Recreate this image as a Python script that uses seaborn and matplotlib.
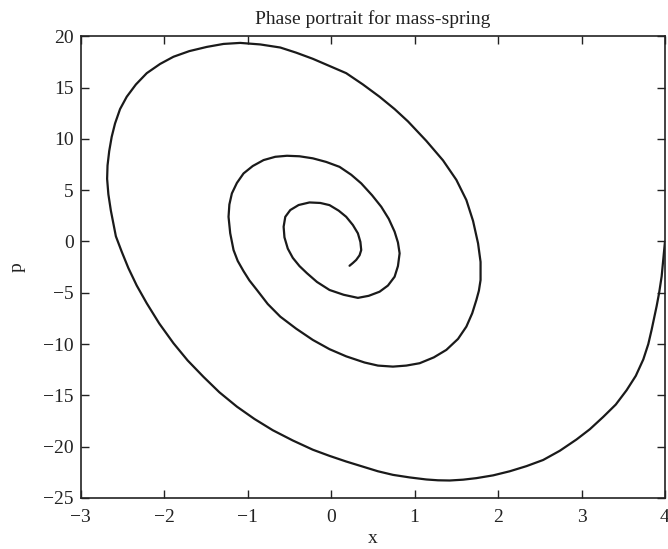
import numpy as np
import pandas as pd
import matplotlib
matplotlib.use('Agg')
import matplotlib.pyplot as plt
import seaborn as sns

# 轨迹数据（从图上读取，按时间顺序）
x_vals = [4.00, 3.98, 3.96, 3.93, 3.90, 3.84, 3.80, 3.74, 3.65, 3.54, 3.41,
          3.26, 3.10, 2.94, 2.74, 2.54, 2.34, 2.14, 1.94, 1.74, 1.58, 1.42,
          1.28, 1.14, 0.94, 0.74, 0.56, 0.40, 0.18, -0.02, -0.22, -0.46,
          -0.70, -0.92, -1.13, -1.34, -1.53, -1.72, -1.89, -2.06, -2.21,
          -2.33, -2.43, -2.51, -2.58, -2.64, -2.67, -2.685, -2.68, -2.66,
          -2.63, -2.59, -2.53, -2.45, -2.34, -2.21, -2.05, -1.89,
          -1.70, -1.49, -1.29, -1.09, -0.85, -0.61, -0.42, -0.22, -0.02,
          0.18, 0.38, 0.58, 0.76, 0.92, 1.14, 1.34, 1.50, 1.62, 1.70, 1.76,
          1.79, 1.79, 1.77, 1.74, 1.69, 1.62, 1.52, 1.38, 1.23, 1.06, 0.90,
          0.74, 0.56, 0.40, 0.18, -0.02, -0.22, -0.42, -0.61, -0.76, -0.89,
          -0.98, -1.05, -1.12, -1.17, -1.21, -1.23, -1.22, -1.19, -1.13,
          -1.05, -0.94, -0.81, -0.67, -0.53, -0.38, -0.22, -0.06, 0.10, 0.24,
          0.36, 0.49, 0.60, 0.69, 0.76, 0.80, 0.82, 0.80, 0.76, 0.68, 0.58,
          0.45, 0.32, 0.15, -0.02, -0.17, -0.29, -0.38, -0.46, -0.52, -0.56,
          -0.57, -0.55, -0.49, -0.39, -0.26, -0.13, -0.02, 0.09, 0.18, 0.26,
          0.32, 0.35, 0.36, 0.34, 0.30, 0.26, 0.22]
p_vals = [0.0, -1.7, -3.4, -5.0, -6.3, -8.6, -10.0, -11.5, -13.1, -14.5,
          -15.9, -17.1, -18.3, -19.3, -20.4, -21.3, -21.9, -22.4, -22.8,
          -23.07, -23.22, -23.3, -23.28, -23.2, -23.0, -22.75, -22.4, -22.0,
          -21.45, -20.9, -20.3, -19.4, -18.4, -17.3, -16.1, -14.7, -13.2,
          -11.6, -9.92, -8.0, -6.03, -4.3, -2.6, -1.0, 0.5, 3.0, 4.6, 6.1,
          7.4, 8.8, 10.2, 11.5, 12.9, 14.1, 15.3, 16.4, 17.3, 18.0,
          18.55, 18.96, 19.25, 19.35, 19.2, 18.9, 18.4, 17.8, 17.1, 16.4,
          15.3, 14.1, 12.9, 11.7, 9.8, 7.9, 6.0, 4.03, 2.0, -0.19, -2.0,
          -3.76, -4.8, -5.7, -7.0, -8.3, -9.5, -10.57, -11.3, -11.87, -12.1,
          -12.2, -12.1, -11.8, -11.2, -10.5, -9.6, -8.5, -7.33, -6.1, -4.73,
          -3.8, -2.9, -1.9, -0.84, 0.8, 2.4, 3.6, 4.68, 5.7, 6.63, 7.35, 7.93,
          8.25, 8.35, 8.3, 8.1, 7.75, 7.27, 6.5, 5.66, 4.5, 3.38, 2.2, 0.95,
          -0.1, -1.16, -2.4, -3.44, -4.3, -4.9, -5.3, -5.5, -5.2, -4.73,
          -3.95, -3.1, -2.4, -1.6, -0.7, 0.4, 1.43, 2.4, 3.06, 3.55, 3.8,
          3.75, 3.54, 3.0, 2.4, 1.6, 0.79, -0.05, -0.84, -1.35, -1.8, -2.1,
          -2.37]

x_ticks = list(range(-3, 5))
p_ticks = list(range(-25, 21, 5))

df = pd.DataFrame({'x': x_vals, 'p': p_vals})

sns.set_style('ticks')
plt.rcParams['font.family'] = ['Liberation Serif', 'DejaVu Serif']
plt.rcParams['xtick.direction'] = 'in'
plt.rcParams['ytick.direction'] = 'in'

fig = plt.figure(figsize=(6.68, 5.49), dpi=100)
ax = fig.add_axes([0.121, 0.093, 0.8745, 0.841])

sns.lineplot(data=df, x='x', y='p', sort=False, estimator=None,
             color='#1a1a1a', linewidth=1.6, ax=ax)
for ln in ax.get_lines():
    ln.set_solid_joinstyle('round')
    ln.set_solid_capstyle('round')

ax.set_xlim(-3, 4)
ax.set_ylim(-25, 20)
ax.set_xticks(x_ticks)
ax.set_yticks(p_ticks)
ax.set_xticklabels([str(v).replace('-', '\u2212') for v in x_ticks])
ax.set_yticklabels([str(v).replace('-', '\u2212') for v in p_ticks])
ax.tick_params(axis='both', which='both', top=True, right=True, length=6,
               width=1, labelsize=14, color='#222222', labelcolor='#222222')
ax.tick_params(axis='x', pad=8)
ax.tick_params(axis='y', pad=5)
for side in ax.spines.values():
    side.set_linewidth(1.2)
    side.set_color('#222222')

ax.set_title('Phase portrait for mass-spring', fontsize=14, pad=9, color='#222222')
ax.set_xlabel('x', fontsize=14, labelpad=3, color='#222222')
ax.set_ylabel('p', fontsize=14, labelpad=13, color='#222222')

fig.savefig('out.png', dpi=100)
